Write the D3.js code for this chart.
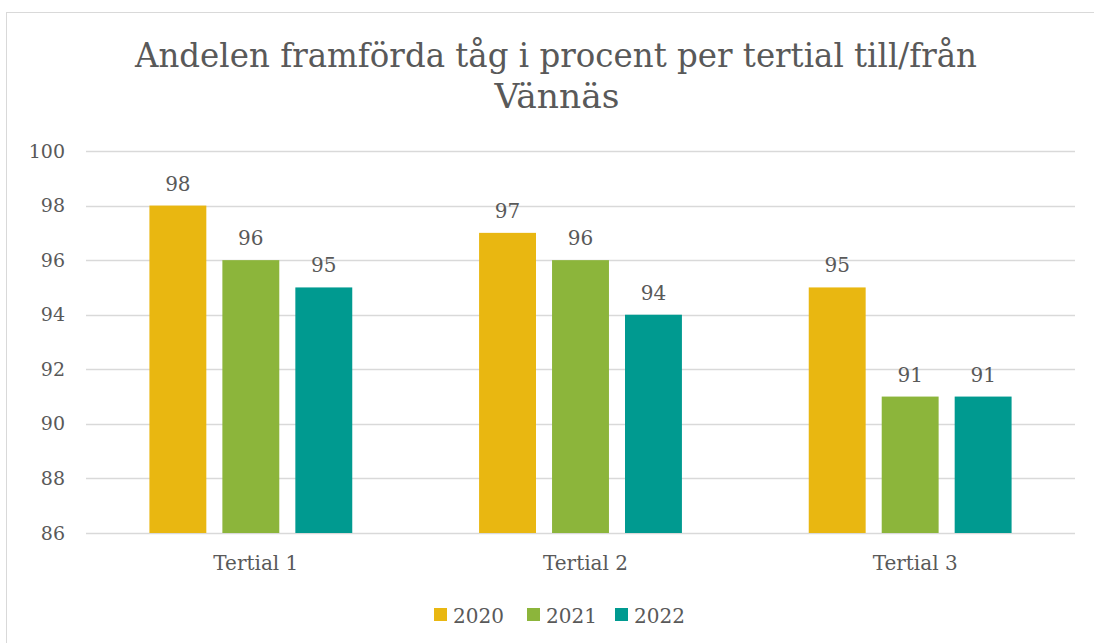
<!DOCTYPE html>
<html>
<head>
<meta charset="utf-8">
<script src="https://cdn.jsdelivr.net/npm/d3@7"></script>
<style>
  body { margin: 0; background: #fff; }
  text { font-family: "DejaVu Serif", "Liberation Serif", serif; fill: #595959; }
</style>
</head>
<body>
<div id="chart"></div>
<script>
// data
var categories = ["Tertial 1", "Tertial 2", "Tertial 3"];
var years = ["2020", "2021", "2022"];
var values2020 = [98, 97, 95];
var values2021 = [96, 96, 91];
var values2022 = [95, 94, 91];
var yTicks = [86, 88, 90, 92, 94, 96, 98, 100];
var colors = ["#E9B711", "#8CB53B", "#009A90"];

var series = [values2020, values2021, values2022];

var W = 1094, H = 643;
var margin = { left: 86, right: 19, top: 151, bottom: 110 };

var svg = d3.select("#chart").append("svg").attr("width", W).attr("height", H);

// chart frame
svg.append("rect")
    .attr("x", 6.5).attr("y", 12.5)
    .attr("width", W + 10).attr("height", H + 10)
    .attr("fill", "none").attr("stroke", "#d9d9d9").attr("stroke-width", 1);

// title, fitted to the width it has in the picture
var title = svg.append("text")
    .attr("text-anchor", "middle")
    .style("font-size", "33px");
title.append("tspan").attr("x", 556).attr("y", 67)
    .attr("textLength", 842).attr("lengthAdjust", "spacingAndGlyphs")
    .text("Andelen framförda tåg i procent per tertial till/från");
title.append("tspan").attr("x", 557).attr("y", 108)
    .attr("textLength", 125).attr("lengthAdjust", "spacingAndGlyphs")
    .text("Vännäs");

var x0 = d3.scaleBand().domain(categories)
    .range([margin.left, W - margin.right])
    .paddingInner(0.336).paddingOuter(0.168);
var x1 = d3.scaleBand().domain(years)
    .range([0, x0.bandwidth()])
    .paddingInner(0.22).paddingOuter(0.11);
var y = d3.scaleLinear().domain([86, 100]).range([H - margin.bottom, margin.top]);

// gridlines
svg.append("g").selectAll("line").data(yTicks).enter().append("line")
    .attr("x1", margin.left).attr("x2", W - margin.right)
    .attr("y1", d => Math.round(y(d)) + 0.5).attr("y2", d => Math.round(y(d)) + 0.5)
    .attr("stroke", "#d9d9d9").attr("stroke-width", 1.5);

// y labels
var yAxis = d3.axisLeft(y).tickValues(yTicks).tickSize(0).tickPadding(21);
var yg = svg.append("g").attr("transform", "translate(" + margin.left + ",0)").call(yAxis);
yg.select(".domain").remove();
yg.selectAll("text").style("font-size", "19px").attr("fill", "#595959")
    .style("font-family", "\"DejaVu Serif\", serif");

// bars
var groups = svg.append("g").selectAll("g").data(categories).enter().append("g")
    .attr("transform", d => "translate(" + x0(d) + ",0)");

groups.selectAll("rect")
    .data((d, i) => years.map((yr, j) => ({ year: yr, value: series[j][i], color: colors[j] })))
    .enter().append("rect")
    .attr("x", d => x1(d.year))
    .attr("y", d => y(d.value))
    .attr("width", x1.bandwidth())
    .attr("height", d => y(86) - y(d.value))
    .attr("fill", d => d.color);

groups.selectAll("text.val")
    .data((d, i) => years.map((yr, j) => ({ year: yr, value: series[j][i] })))
    .enter().append("text")
    .attr("class", "val")
    .attr("x", d => x1(d.year) + x1.bandwidth() / 2)
    .attr("y", d => y(d.value) - 15)
    .attr("text-anchor", "middle")
    .style("font-size", "20px")
    .text(d => d.value);

// x axis labels
var xAxis = d3.axisBottom(x0).tickSize(0).tickPadding(23);
var xg = svg.append("g").attr("transform", "translate(0," + y(86) + ")").call(xAxis);
xg.select(".domain").remove();
xg.selectAll("text").style("font-size", "20px").attr("fill", "#595959")
    .style("font-family", "\"DejaVu Serif\", serif")
    .attr("dx", 5);

// legend
var legendX = [434, 527, 615];
var legend = svg.append("g").selectAll("g").data(years).enter().append("g")
    .attr("transform", (d, i) => "translate(" + legendX[i] + ",608)");
legend.append("rect").attr("width", 13).attr("height", 13)
    .attr("fill", (d, i) => colors[i]);
legend.append("text").attr("x", 19).attr("y", 15)
    .style("font-size", "20px")
    .text(d => d);
</script>
</body>
</html>
